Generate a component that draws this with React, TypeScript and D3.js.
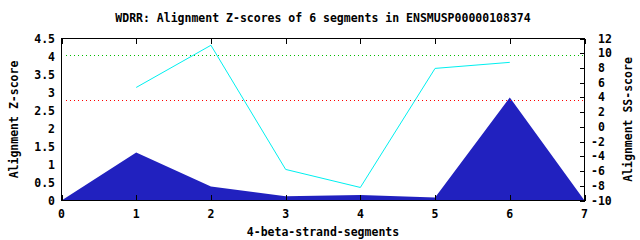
import React from "react";
import * as d3 from "d3";

const segments = [0, 1, 2, 3, 4, 5, 6, 7];
const zScores = [0, 1.33, 0.39, 0.12, 0.15, 0.08, 2.86, 0];
const ssPositions = [1, 2, 3, 4, 5, 6];
const ssScores = [5.35, 11.08, -5.78, -8.23, 7.94, 8.76];
const leftTicks = [0, 0.5, 1, 1.5, 2, 2.5, 3, 3.5, 4, 4.5];
const rightTicks = [-10, -8, -6, -4, -2, 0, 2, 4, 6, 8, 10, 12];
const xTicks = [0, 1, 2, 3, 4, 5, 6, 7];
const thresholdsZ = [4.04, 2.78];
const thresholdColors = ["#00c000", "#ff0000"];

const W = 640, H = 240;
const L = 61.5, R = 584.5, T = 38.5, B = 200.5;
const FONT = "'DejaVu Sans Mono', monospace";

export default function App() {
  const x = d3.scaleLinear().domain([0, 7]).range([L, R]);
  const y = d3.scaleLinear().domain([0, 4.5]).range([B, T]);
  const y2 = d3.scaleLinear().domain([-10, 12]).range([B, T]);

  const area = d3.area<number>()
    .x((_, i) => x(segments[i]))
    .y0(y(0))
    .y1((d) => y(d))(zScores) || "";
  const line = d3.line<number>()
    .x((_, i) => x(ssPositions[i]))
    .y((d) => y2(d))(ssScores) || "";

  const txt = { fontFamily: FONT, fontWeight: "bold" as const, fontSize: 11.5, fill: "#000" };

  return (
    <svg width={W} height={H} style={{ position: "absolute", left: 0, top: 0, background: "#fff" }}>
      <rect x={0} y={0} width={W} height={H} fill="#fff" />
      <text x={323} y={18} textAnchor="middle" dy="0.35em" {...txt}>
        WDRR: Alignment Z-scores of 6 segments in ENSMUSP00000108374
      </text>
      <path d={area} fill="#2121bf" />
      {thresholdsZ.map((v, i) => (
        <line key={i} x1={L + 4} x2={R} y1={Math.round(y(v)) + 0.5} y2={Math.round(y(v)) + 0.5}
          stroke={thresholdColors[i]} strokeWidth={1} strokeDasharray="1,3" shapeRendering="crispEdges" />
      ))}
      <path d={line} fill="none" stroke="#00f0f0" strokeWidth={1} />
      <rect x={L} y={T} width={R - L} height={B - T} fill="none" stroke="#000" strokeWidth={1} shapeRendering="crispEdges" />
      {xTicks.map((t) => (
        <g key={t}>
          <line x1={Math.round(x(t)) + 0.5} x2={Math.round(x(t)) + 0.5} y1={T} y2={T + 5} stroke="#000" shapeRendering="crispEdges" />
          <line x1={Math.round(x(t)) + 0.5} x2={Math.round(x(t)) + 0.5} y1={B} y2={B - 6} stroke="#000" shapeRendering="crispEdges" />
          <text x={x(t)} y={214} textAnchor="middle" dy="0.35em" {...txt}>{t}</text>
        </g>
      ))}
      {leftTicks.map((t) => (
        <text key={t} x={55} y={y(t)} textAnchor="end" dy="0.35em" {...txt}>{String(t)}</text>
      ))}
      {rightTicks.map((t) => (
        <g key={t}>
          <line x1={R - 5} x2={R} y1={Math.round(y2(t)) + 0.5} y2={Math.round(y2(t)) + 0.5} stroke="#000" shapeRendering="crispEdges" />
          <text x={t < 0 ? 591 : 598} y={y2(t)} textAnchor="start" dy="0.35em" {...txt}>{String(t)}</text>
        </g>
      ))}
      <text x={323} y={232} textAnchor="middle" dy="0.35em" {...txt}>4-beta-strand-segments</text>
      <text transform={`translate(14,${(T + B) / 2}) rotate(-90)`} textAnchor="middle" dy="0.35em" {...txt}>
        Alignment Z-score
      </text>
      <text transform={`translate(628,${(T + B) / 2}) rotate(-90)`} textAnchor="middle" dy="0.35em" {...txt}>
        Alignment SS-score
      </text>
    </svg>
  );
}
